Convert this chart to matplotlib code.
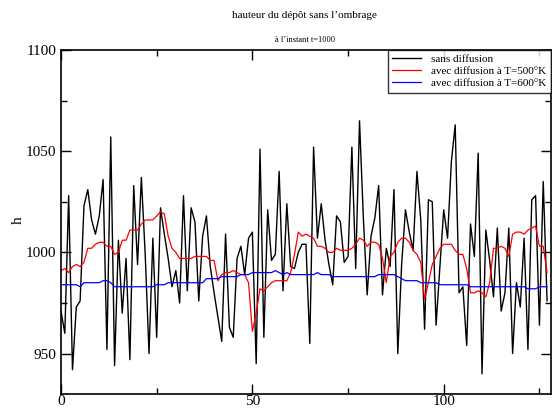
import matplotlib
matplotlib.use("Agg")
import matplotlib.pyplot as plt
import numpy as np
from matplotlib.ticker import MultipleLocator

# values (128 sites, index 0..127)
h_sans = [971, 960, 1028, 942, 973, 976, 1023, 1031, 1016, 1009,
          1018, 1036, 952, 1057, 944, 1006, 970, 997, 947, 1033,
          994, 1037, 999, 950, 1007, 958, 1022, 1009, 997, 983,
          991, 975, 1028, 981, 1022, 1015, 976, 1008, 1018, 993,
          980, 968, 956, 1009, 963, 958, 997, 1003, 989, 1007,
          1010, 945, 1051, 958, 1021, 996, 999, 1040, 981, 1024,
          993, 992, 1000, 1004, 1004, 955, 1052, 1007, 1024, 1006,
          994, 984, 1018, 1015, 995, 998, 1052, 992, 1065, 1017,
          979, 1008, 1017, 1033, 979, 1002, 993, 1031, 950, 994,
          1021, 1010, 1001, 1040, 1016, 962, 1026, 1025, 964, 993,
          1021, 1007, 1045, 1063, 980, 983, 954, 1014, 998, 1049,
          940, 1011, 996, 978, 1012, 971, 980, 1012, 950, 985,
          973, 1007, 952, 1026, 1028, 964, 1035, 976]

h_500 = [991, 992, 990, 993, 994, 993, 995, 1002, 1002, 1004,
         1005, 1005, 1003, 1003, 999, 1000, 1006, 1006, 1011, 1011,
         1011, 1014, 1016, 1016, 1016, 1018, 1020, 1019, 1008, 1002,
         1000, 997, 997, 997, 997, 998, 998, 998, 998, 996,
         996, 986, 989, 990, 990, 991, 990, 989, 989, 985,
         961, 970, 982, 981, 983, 985, 986, 986, 986, 986,
         990, 999, 1010, 1008, 1009, 1008, 1007, 1003, 1003, 1002,
         1000, 1000, 1002, 1001, 1001, 1001, 1002, 1004, 1007, 1006,
         1003, 1005, 1005, 1004, 997, 985, 998, 1000, 1005, 1007,
         1007, 1005, 1001, 999, 995, 977, 985, 994, 998, 1002,
         1004, 1004, 1004, 1001, 999, 999, 992, 980, 980, 981,
         980, 978, 985, 1002, 1002, 1003, 1002, 998, 1009, 1010,
         1010, 1009, 1011, 1012, 1013, 1003, 1003, 990]

h_600 = [984, 984, 984, 984, 984, 983, 985, 985, 985, 985,
         985, 986, 986, 985, 983, 983, 983, 983, 983, 983,
         983, 983, 983, 983, 983, 984, 984, 984, 985, 985,
         985, 985, 985, 985, 985, 985, 985, 985, 987, 987,
         987, 987, 988, 988, 988, 988, 988, 989, 989, 989,
         990, 990, 990, 990, 990, 990, 991, 990, 989, 990,
         989, 989, 989, 989, 989, 989, 989, 990, 989, 989,
         989, 988, 988, 988, 988, 988, 988, 988, 988, 988,
         988, 988, 988, 989, 989, 989, 989, 989, 988, 987,
         986, 986, 986, 986, 985, 985, 985, 985, 985, 984,
         984, 984, 984, 984, 984, 984, 984, 983, 983, 983,
         983, 983, 983, 983, 983, 983, 983, 983, 983, 983,
         983, 983, 982, 982, 982, 983, 983, 983]

labels = ["sans diffusion", "avec diffusion à T=500°K", "avec diffusion à T=600°K"]
colors = ["black", "red", "blue"]
widths = [1.0, 0.9, 0.9]

plt.rcParams['font.family'] = ['Liberation Serif', 'DejaVu Serif']

fig = plt.figure(figsize=(5.52, 4.08), dpi=100)
ax = fig.add_axes([0.1105, 0.0343, 0.8875, 0.8432])

x = np.arange(len(h_sans))
for y, c, w, lab in zip([h_sans, h_500, h_600], colors, widths, labels):
    ax.plot(x, y, color=c, lw=w, label=lab)

ax.set_xlim(0, 128)
ax.set_ylim(930, 1100)
ax.xaxis.set_major_locator(MultipleLocator(50))
ax.xaxis.set_minor_locator(MultipleLocator(25))
ax.yaxis.set_major_locator(MultipleLocator(50))
ax.yaxis.set_minor_locator(MultipleLocator(25))
ax.tick_params(which='both', direction='in', top=True, right=True, labelsize=11)
ax.tick_params(which='major', length=7, width=1.0)
ax.tick_params(which='minor', length=4, width=1.0)
ax.tick_params(axis='x', pad=1)
for s in ax.spines.values():
    s.set_linewidth(1.2)

# y label placed by hand, like the reference
fig.text(0.033, 0.46, "h", ha='center', va='center', rotation=90, fontsize=11)

fig.text(0.552, 0.963, "hauteur du dépôt sans l\u2019ombrage", ha='center', va='center', fontsize=8)
fig.text(0.552, 0.902, "à l\u2019instant t=1000", ha='center', va='center', fontsize=6)

leg = ax.legend(loc='upper right', fontsize=8, frameon=True, fancybox=False,
                edgecolor='black', handlelength=2.6, borderaxespad=0,
                labelspacing=0.2, borderpad=0.4, handletextpad=0.9)
leg.get_frame().set_linewidth(1.0)

fig.savefig("out.png", dpi=100)
